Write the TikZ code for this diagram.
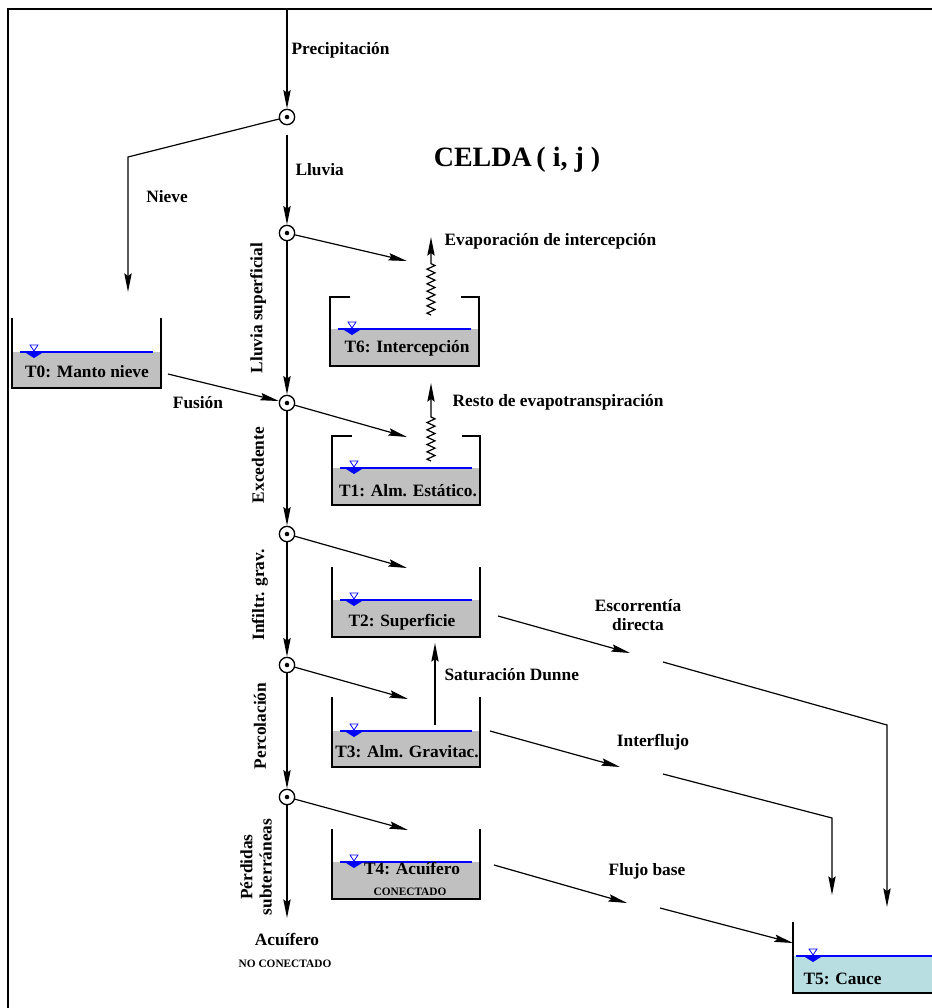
\documentclass[tikz,border=0pt]{standalone}
\usepackage{fontspec}
\setmainfont{Liberation Serif}
\usetikzlibrary{arrows.meta, decorations.pathmorphing}
\definecolor{nivel}{RGB}{192,192,192}
\definecolor{cauce}{RGB}{184,222,226}
\tikzstyle{etiqueta} = [font=\bfseries\fontsize{13}{14.5}\selectfont, inner sep=1pt, align=center]
\tikzstyle{titulo} = [font=\bfseries\fontsize{21}{24}\selectfont]
\tikzstyle{mini} = [font=\bfseries\fontsize{8.5}{10}\selectfont, inner sep=1pt]
\tikzstyle{union} = [circle, draw, line width=1pt, minimum size=11.5pt, inner sep=0pt, path picture={\fill (path picture bounding box.center) circle (1.7pt);}]
\tikzstyle{arrow} = [line width=0.9pt, -{Stealth[length=14pt,width=5.5pt,inset=2pt]}]
\tikzstyle{pared} = [line width=2pt, line cap=rect]
\tikzstyle{agua} = [blue, line width=1.1pt]
\tikzstyle{onda} = [decoration={zigzag, segment length=5.5pt, amplitude=3pt}]
% simbolo de nivel: x, y
\newcommand{\nivelagua}[2]{%
  \draw[blue, line width=0.6pt] (#1-4,#2-7) -- (#1+4,#2-7) -- (#1,#2-1) -- cycle;
  \fill[blue] (#1-8,#2+1) -- (#1+8,#2+1) -- (#1,#2+6) -- cycle;}
% deposito: izq, der, arriba, agua, fondo
\newcommand{\deposito}[5]{%
  \fill[nivel] (#1,#4) rectangle (#2,#5);
  \draw[agua] (#1+8,#4) -- (#2-8,#4);
  \draw[pared] (#1,#3) -- (#1,#5) -- (#2,#5) -- (#2,#3);
  \nivelagua{#1+22}{#4}}

\begin{document}
\begin{tikzpicture}[x=0.75pt, y=-0.75pt]
\useasboundingbox (0,0) rectangle (932,1008);
\draw[line width=1.5pt] (8,1010) -- (8,9) -- (934,9);

% depositos
\deposito{12}{161}{319}{352}{388}
\deposito{330}{479}{297}{329}{366}
\draw[pared] (330,297) -- (349,297);
\draw[pared] (462,297) -- (479,297);
\deposito{332}{480}{436}{468}{505}
\draw[pared] (332,436) -- (351,436);
\draw[pared] (463,436) -- (480,436);
\deposito{332}{480}{568}{600}{637}
\deposito{332}{480}{698}{731}{767}
\deposito{332}{480}{830}{862}{899}
\fill[cauce] (793,956) rectangle (935,993);
\draw[agua] (796,956) -- (935,956);
\draw[pared] (793,923) -- (793,993) -- (935,993);
\nivelagua{813}{956}

% uniones
\node (j0) [union] at (287,117) {};
\node (j1) [union] at (287,233) {};
\node (j2) [union] at (287,403) {};
\node (j3) [union] at (287,534) {};
\node (j4) [union] at (287,665) {};
\node (j5) [union] at (287,797) {};

% textos
\node (celda) [titulo] at (517,160) {CELDA\,( i, j )};
\node (lprec) [etiqueta, anchor=west] at (290,50) {Precipitación};
\node (lluv) [etiqueta, anchor=west] at (294,170) {Lluvia};
\node (lniev) [etiqueta] at (167,197) {Nieve};
\node (lfus) [etiqueta] at (198,403) {Fusión};
\node (lsup) [etiqueta, rotate=90] at (258,308) {Lluvia superficial};
\node (lexc) [etiqueta, rotate=90] at (258,465) {Excedente};
\node (linf) [etiqueta, rotate=90] at (260,595) {Infiltr. grav.};
\node (lper) [etiqueta, rotate=90] at (260,726) {Percolación};
\node (lperd) [etiqueta, rotate=90] at (256,867) {Pérdidas\\subterráneas};
\node (acu) [etiqueta] at (287,939) {Acuífero};
\node (noc) [mini] at (285,964) {NO CONECTADO};
\node (levap) [etiqueta, anchor=west] at (443,241) {Evaporación de intercepción};
\node (lresto) [etiqueta, anchor=west] at (451,402) {Resto de evapotranspiración};
\node (lsat) [etiqueta, anchor=west] at (443,675) {Saturación Dunne};
\node (lesc) [etiqueta] at (638,615) {Escorrentía\\directa};
\node (linter) [etiqueta] at (653,742) {Interflujo};
\node (lbase) [etiqueta] at (647,871) {Flujo base};

\node (t0) [etiqueta] at (87,372) {T0: Manto nieve};
\node (t6) [etiqueta] at (407,348) {T6: Intercepción};
\node (t1) [etiqueta] at (408,491) {T1: Alm. Estático.};
\node (t2) [etiqueta] at (402,622) {T2: Superficie};
\node (t3) [etiqueta] at (407,752) {T3: Alm. Gravitac.};
\node (t4) [etiqueta] at (412,869) {T4: Acuífero};
\node (t4b) [mini] at (410,892) {CONECTADO};
\node (t5) [etiqueta, anchor=west] at (802,979) {T5: Cauce};

% puntos libres
\coordinate (cima) at (287,9);
\coordinate (codo0) at (128,157);
\coordinate (e0) at (128,292);
\coordinate (fin) at (287,918);
\coordinate (e6) at (407,261);
\coordinate (e1) at (407,437);
\coordinate (e2) at (407,568);
\coordinate (e3) at (408,699);
\coordinate (e4) at (408,830);
\coordinate (s0) at (168,374);
\coordinate (w6a) at (431,315);
\coordinate (w6b) at (431,263);
\coordinate (w6c) at (431,237);
\coordinate (w1a) at (431,461);
\coordinate (w1b) at (431,414);
\coordinate (w1c) at (431,383);
\coordinate (sat0) at (435,725);
\coordinate (sat1) at (435,643);
\coordinate (s2) at (498,616);
\coordinate (s2b) at (630,653);
\coordinate (s2c) at (663,662);
\coordinate (s2d) at (887,725);
\coordinate (s2e) at (887,907);
\coordinate (s3) at (490,731);
\coordinate (s3b) at (620,767);
\coordinate (s3c) at (663,774);
\coordinate (s3d) at (832,818);
\coordinate (s3e) at (832,895);
\coordinate (s4) at (494,865);
\coordinate (s4b) at (627,903);
\coordinate (s4c) at (660,908);
\coordinate (s4d) at (793,943);

% flujos
\draw[arrow] (cima) -- (j0);
\draw[arrow] (j0) -- (codo0) -- (e0);
\draw[arrow, shorten <=7pt] (j0) -- (j1);
\draw[arrow] (j1) -- (j2);
\draw[arrow] (j2) -- (j3);
\draw[arrow] (j3) -- (j4);
\draw[arrow] (j4) -- (j5);
\draw[arrow] (j5) -- (fin);
\draw[arrow] (j1) -- (e6);
\draw[arrow] (j2) -- (e1);
\draw[arrow] (j3) -- (e2);
\draw[arrow] (j4) -- (e3);
\draw[arrow] (j5) -- (e4);
\draw[arrow] (s0) -- (j2);
\draw[arrow] (w6a) decorate[onda] {-- (w6b)} -- (w6c);
\draw[arrow] (w1a) decorate[onda] {-- (w1b)} -- (w1c);
\draw[arrow] (sat0) -- (sat1);
\draw[arrow] (s2) -- (s2b);
\draw[arrow] (s2c) -- (s2d) -- (s2e);
\draw[arrow] (s3) -- (s3b);
\draw[arrow] (s3c) -- (s3d) -- (s3e);
\draw[arrow] (s4) -- (s4b);
\draw[arrow] (s4c) -- (s4d);
\end{tikzpicture}
\end{document}
